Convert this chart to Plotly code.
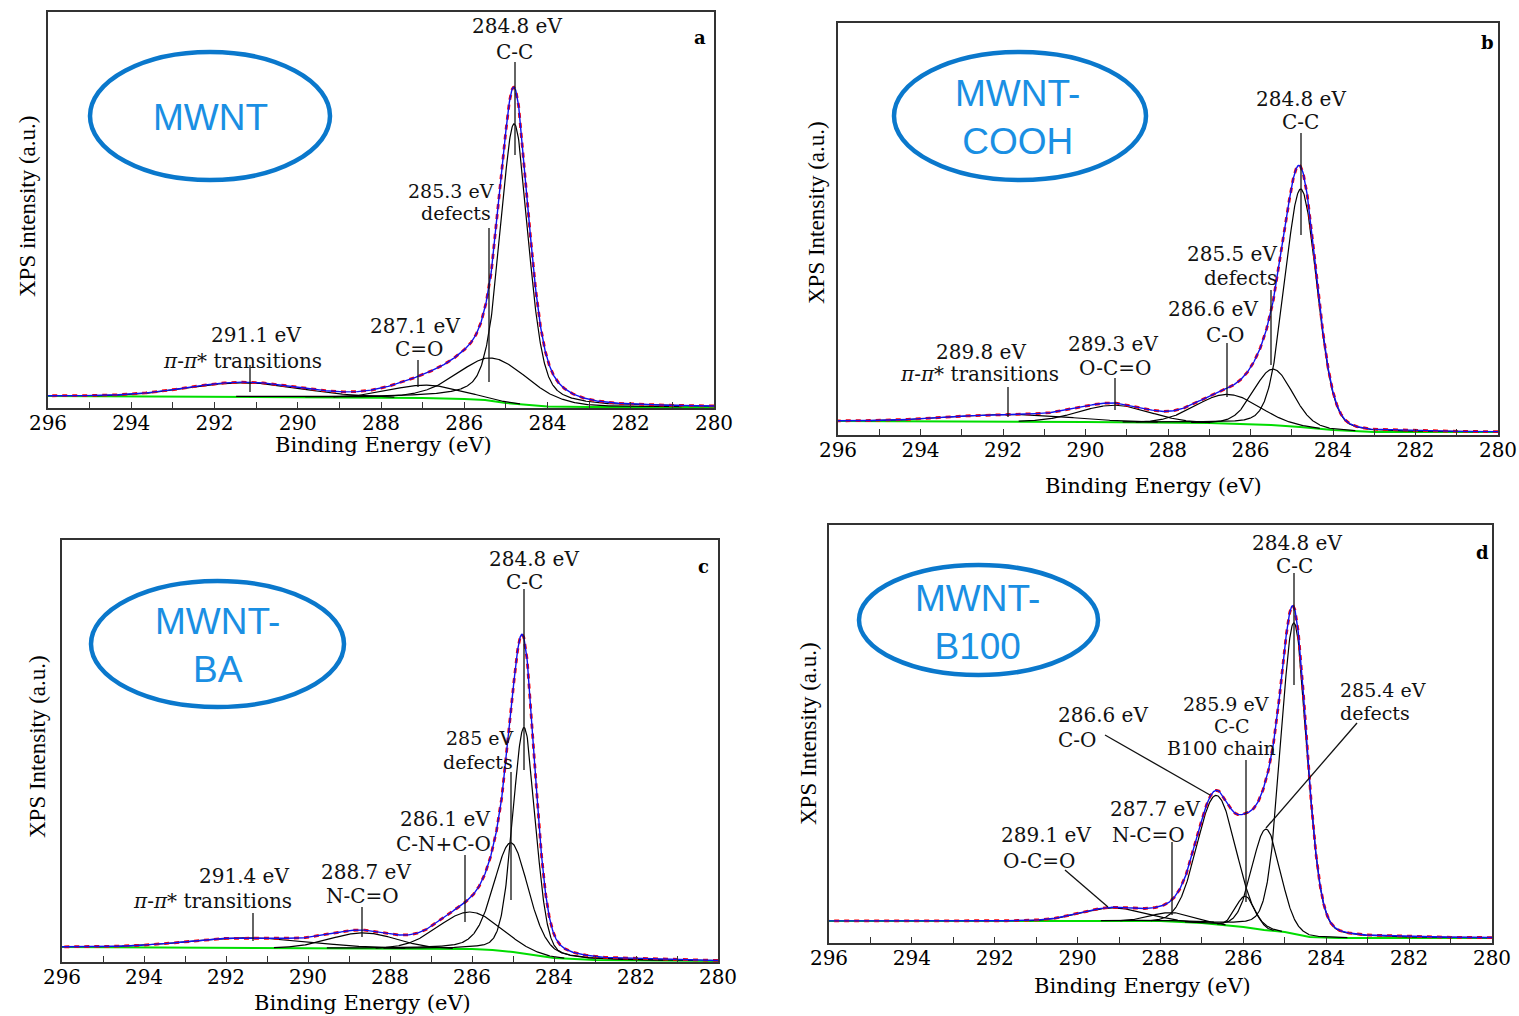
import numpy as np
import plotly.graph_objects as go

# ---------------- data ----------------
# binding-energy axis ticks
TICK_VALS = [280, 282, 284, 286, 288, 290, 292, 294, 296]
MINOR_VALS = [281, 283, 285, 287, 289, 291, 293, 295]

# panel a : MWNT
a_base_E = [296, 293, 290, 288, 287, 286, 285.5, 285.0, 284.5, 284.0, 283.0, 280]
a_base_I = [12, 11.5, 11, 10.5, 10, 9, 8, 5, 3, 1.5, 1, 1]
a_center = [284.8, 285.3, 286.9, 291.3]
a_height = [280, 43, 13, 14]
a_fwhm = [0.8, 2.0, 2.0, 3.2]
a_eta = [0.4, 0.2, 0.0, 0.0]

# panel b : MWNT-COOH
b_base_E = [296, 292, 290, 287, 286, 285.5, 284.8, 284.0, 283.0, 280]
b_base_I = [14, 13.5, 13, 12, 11, 10, 8, 5, 3, 3]
b_center = [284.78, 285.45, 286.55, 289.3, 291.8]
b_height = [238, 56, 29, 17, 7]
b_fwhm = [0.92, 1.1, 1.8, 2.0, 3.5]
b_eta = [0.15, 0.1, 0.0, 0.0, 0.0]

# panel c : MWNT-BA
c_base_E = [296, 291, 288, 286, 285.5, 285.0, 284.5, 284.0, 283.0, 280]
c_base_I = [15, 14, 13.5, 13, 12, 10, 7, 4, 2, 1]
c_center = [284.73, 285.05, 286.05, 288.65, 291.4]
c_height = [226, 109, 37, 15.5, 10]
c_fwhm = [0.65, 1.0, 1.8, 1.9, 3.5]
c_eta = [0.2, 0.3, 0.0, 0.0, 0.0]

# panel d : MWNT-B100
d_base_E = [296, 292, 288, 287, 286, 285.5, 285.0, 284.4, 283.7, 280]
d_base_I = [22, 22, 22, 20, 16, 13, 11, 6, 5, 5]
d_center = [284.78, 285.45, 285.95, 286.65, 287.7, 289.15]
d_height = [311, 101, 31, 129, 9, 13]
d_fwhm = [0.75, 0.8, 0.55, 1.1, 1.2, 1.8]
d_eta = [0.2, 0.1, 0.0, 0.0, 0.0, 0.0]

SAMPLES = ["MWNT", "MWNT-<br>COOH", "MWNT-<br>BA", "MWNT-<br>B100"]
LETTERS = ["a", "b", "c", "d"]
YTITLES = ["XPS intensity (a.u.)", "XPS Intensity (a.u.)",
           "XPS Intensity (a.u.)", "XPS Intensity (a.u.)"]

PI = "<i>π</i>-<i>π</i>* transitions"
# peak labels (text lines)
a_labels = ["284.8 eV", "C-C", "285.3 eV", "defects", "287.1 eV", "C=O",
            "291.1 eV", PI]
b_labels = ["284.8 eV", "C-C", "285.5 eV", "defects", "286.6 eV", "C-O",
            "289.3 eV", "O-C=O", "289.8 eV", PI]
c_labels = ["284.8 eV", "C-C", "285 eV", "defects", "286.1 eV", "C-N+C-O",
            "288.7 eV", "N-C=O", "291.4 eV", PI]
d_labels = ["284.8 eV", "C-C", "285.4 eV", "defects", "285.9 eV", "C-C", "B100 chain",
            "286.6 eV", "C-O", "287.7 eV", "N-C=O", "289.1 eV", "O-C=O"]

# ---------------- layout geometry (pixels) ----------------
W, H = 1519, 1016
def px(x): return x / W
def py(y): return 1 - y / H

# plot boxes: left, right, top, bottom
BOX = [(48, 714, 12, 408), (838, 1498, 23, 435), (62, 718, 540, 962), (829, 1492, 525, 943)]

# label positions (center x, center y, font size) matching label lists
a_lpos = [(517, 26, 20), (514, 52, 20), (451, 191, 19), (456, 213, 19), (415, 326, 20),
          (419, 349, 20), (256, 335, 20), (242, 361, 20)]
b_lpos = [(1301, 99, 20), (1300, 122, 20), (1232, 254, 20), (1240, 278, 20), (1213, 309, 20),
          (1225, 335, 20), (1113, 344, 20), (1115, 368, 20), (981, 352, 20), (979, 374, 20)]
c_lpos = [(534, 559, 20), (524, 582, 20), (480, 738, 19), (478, 762, 19), (445, 819, 20),
          (443, 844, 20), (366, 872, 20), (362, 896, 20), (244, 876, 20), (212, 901, 20)]
d_lpos = [(1297, 543, 20), (1294, 566, 20), (1383, 690, 19), (1375, 713, 19), (1226, 704, 19),
          (1232, 726, 19), (1221, 748, 19), (1103, 715, 20), (1077, 740, 20), (1155, 809, 20),
          (1148, 835, 20), (1046, 835, 20), (1039, 861, 20)]

# leader lines (x0, y0, x1, y1) in pixels
a_lead = [(515, 62, 515, 155), (489, 228, 489, 382), (418, 360, 418, 387), (250, 365, 250, 392)]
b_lead = [(1301, 133, 1301, 235), (1271, 290, 1271, 365), (1227, 343, 1227, 397),
          (1115, 378, 1115, 410), (1008, 387, 1008, 417)]
c_lead = [(524, 589, 524, 770), (511, 772, 511, 900), (465, 855, 465, 922),
          (362, 907, 362, 937), (253, 913, 253, 941)]
d_lead = [(1294, 573, 1294, 685), (1357, 723, 1266, 828), (1246, 760, 1246, 902),
          (1105, 735, 1210, 795), (1172, 842, 1172, 915), (1065, 870, 1108, 907)]

ELLIPSE = [(90, 52, 330, 180), (894, 52, 1146, 180), (91, 581, 344, 707), (859, 565, 1098, 675)]
SAMPLE_POS = [(210, 117), (1017, 117), (218, 645), (977, 622)]
LETTER_POS = [(700, 37), (1487, 42), (703, 566), (1482, 552)]
YTITLE_POS = [(28, 207), (817, 213), (37, 747), (808, 734)]
XTITLE_POS = [(383, 445), (1153, 486), (362, 1003), (1142, 986)]

# ---------------- model evaluation ----------------
E = np.linspace(280, 296, 1601)

def pvoigt(x, c, h, w, eta):
    u = (x - c) / w
    return h * ((1 - eta) * np.exp(-4 * np.log(2) * u ** 2) + eta / (1 + 4 * u ** 2))

panels = [
    (a_base_E, a_base_I, a_center, a_height, a_fwhm, a_eta),
    (b_base_E, b_base_I, b_center, b_height, b_fwhm, b_eta),
    (c_base_E, c_base_I, c_center, c_height, c_fwhm, c_eta),
    (d_base_E, d_base_I, d_center, d_height, d_fwhm, d_eta),
]
labels = [a_labels, b_labels, c_labels, d_labels]
lpos = [a_lpos, b_lpos, c_lpos, d_lpos]
leads = [a_lead, b_lead, c_lead, d_lead]

fig = go.Figure()
annotations = []
shapes = []
SERIF = "DejaVu Serif"

for i, (bE, bI, cen, hei, fw, et) in enumerate(panels):
    xa = "x" if i == 0 else f"x{i+1}"
    ya = "y" if i == 0 else f"y{i+1}"
    base = np.interp(E, bE[::-1], bI[::-1])
    comps = [pvoigt(E, c, h, w, e) for c, h, w, e in zip(cen, hei, fw, et)]
    env = base + np.sum(comps, axis=0)

    # baseline
    fig.add_trace(go.Scatter(x=bE, y=bI, mode="lines", line=dict(color="#00dd00", width=2),
                             xaxis=xa, yaxis=ya, showlegend=False, hoverinfo="skip"))
    # components
    for comp in comps:
        yy = np.where(comp > 0.4, base + comp, np.nan)
        fig.add_trace(go.Scatter(x=E, y=yy, mode="lines", line=dict(color="black", width=1.2),
                                 xaxis=xa, yaxis=ya, showlegend=False, hoverinfo="skip"))
    # measured data (red) and fit envelope (blue)
    fig.add_trace(go.Scatter(x=E, y=env, mode="lines",
                             line=dict(color="#ff0000", width=2.8, dash="5px,5px"),
                             xaxis=xa, yaxis=ya, showlegend=False, hoverinfo="skip"))
    fig.add_trace(go.Scatter(x=E, y=env, mode="lines", line=dict(color="#1010ee", width=1.4),
                             xaxis=xa, yaxis=ya, showlegend=False, hoverinfo="skip"))

    l, r, t, b = BOX[i]
    Hp = b - t
    xkey = "xaxis" if i == 0 else f"xaxis{i+1}"
    ykey = "yaxis" if i == 0 else f"yaxis{i+1}"
    fig.update_layout(**{
        xkey: dict(domain=[px(l), px(r)], anchor=ya, range=[296, 280],
                   tickvals=TICK_VALS, ticktext=[str(v) for v in TICK_VALS],
                   ticks="inside", ticklen=6, tickwidth=1.2, tickcolor="#333",
                   minor=dict(tickvals=MINOR_VALS, ticks="inside", ticklen=6, tickcolor="#333"),
                   showline=True, mirror=True, linecolor="#333", linewidth=1.5,
                   showgrid=False, zeroline=False, automargin=False,
                   ticklabelstandoff=-4,
                   tickfont=dict(family=SERIF, size=20, color="black")),
        ykey: dict(domain=[py(b), py(t)], anchor=xa, range=[0, Hp],
                   showticklabels=False, ticks="", showline=True, mirror=True,
                   automargin=False,
                   linecolor="#333", linewidth=1.5, showgrid=False, zeroline=False),
    })

    # peak labels
    for txt, (x, y, fs) in zip(labels[i], lpos[i]):
        annotations.append(dict(x=px(x), y=py(y), xref="paper", yref="paper", text=txt,
                                showarrow=False, xanchor="center", yanchor="middle",
                                font=dict(family=SERIF, size=fs, color="#111")))
    for (x0, y0, x1, y1) in leads[i]:
        shapes.append(dict(type="line", xref="paper", yref="paper",
                           x0=px(x0), y0=py(y0), x1=px(x1), y1=py(y1),
                           line=dict(color="#111", width=1.3)))
    # sample ellipse
    ex0, ey0, ex1, ey1 = ELLIPSE[i]
    shapes.append(dict(type="circle", xref="paper", yref="paper",
                       x0=px(ex0), y0=py(ey1), x1=px(ex1), y1=py(ey0),
                       line=dict(color="#0a78cc", width=4.5)))
    sx, sy = SAMPLE_POS[i]
    annotations.append(dict(x=px(sx), y=py(sy), xref="paper", yref="paper", text=SAMPLES[i],
                            showarrow=False, xanchor="center", yanchor="middle",
                            font=dict(family="Liberation Sans", size=37, color="#1a8fe3")))
    # panel letter
    lx, ly = LETTER_POS[i]
    annotations.append(dict(x=px(lx), y=py(ly), xref="paper", yref="paper",
                            text="<b>" + LETTERS[i] + "</b>", showarrow=False,
                            xanchor="center", yanchor="middle",
                            font=dict(family=SERIF, size=18, color="black")))
    # axis titles
    tx, ty = XTITLE_POS[i]
    annotations.append(dict(x=px(tx), y=py(ty), xref="paper", yref="paper",
                            text="Binding Energy (eV)", showarrow=False,
                            xanchor="center", yanchor="middle",
                            font=dict(family=SERIF, size=21, color="black")))
    yx, yy_ = YTITLE_POS[i]
    annotations.append(dict(x=px(yx), y=py(yy_), xref="paper", yref="paper",
                            text=YTITLES[i], showarrow=False, textangle=-90,
                            xanchor="center", yanchor="middle",
                            font=dict(family="Liberation Serif", size=23, color="black")))

fig.update_layout(width=W, height=H, autosize=False,
                  margin=dict(l=0, r=0, t=0, b=0, pad=0),
                  paper_bgcolor="white", plot_bgcolor="white",
                  annotations=annotations, shapes=shapes, showlegend=False)

fig.write_html("out.html", config={"responsive": False})
